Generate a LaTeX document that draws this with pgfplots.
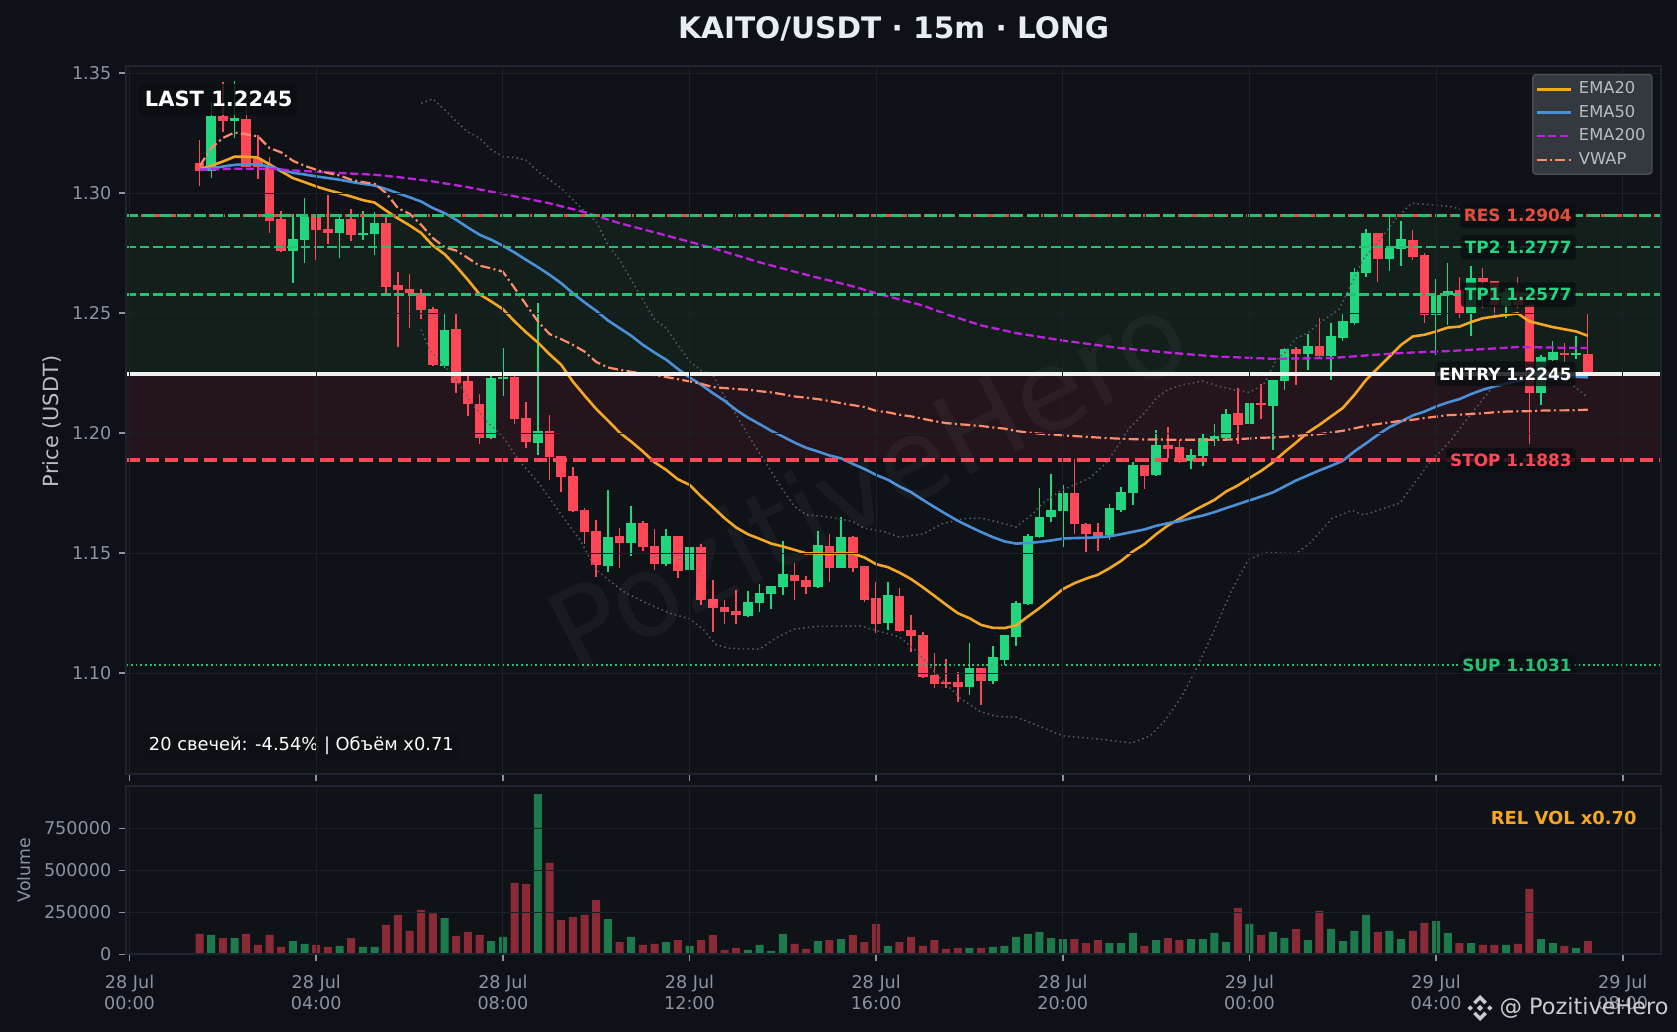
\documentclass[border=0pt]{standalone}
\usepackage{fontspec}
\setmainfont{DejaVu Sans}
\setsansfont{DejaVu Sans}
\usepackage{pgfplots}
\usepackage{pgfplotstable}
\pgfplotsset{compat=1.18}
\definecolor{figbg}{HTML}{0E1218}
\definecolor{axbg}{HTML}{0F1318}
\definecolor{spinec}{HTML}{1D242D}
\definecolor{gridc}{HTML}{1B2128}
\definecolor{tickc}{HTML}{8B949E}
\definecolor{titlec}{HTML}{E6EDF3}
\definecolor{up}{HTML}{22D67F}
\definecolor{down}{HTML}{FF4757}
\definecolor{upv}{HTML}{1C7A4C}
\definecolor{downv}{HTML}{8A2A37}
\definecolor{ema20}{HTML}{F5A623}
\definecolor{ema50}{HTML}{4A90D9}
\definecolor{ema200}{HTML}{C31FE0}
\definecolor{vwap}{HTML}{FF8C69}
\definecolor{bbc}{HTML}{565C64}
\definecolor{zoneg}{HTML}{121F1B}
\definecolor{zoner}{HTML}{24151C}
\definecolor{tpc}{HTML}{27C073}
\definecolor{resc}{HTML}{E74C3C}
\definecolor{boxc}{HTML}{0B0E12}
\definecolor{legf}{HTML}{34383F}
\definecolor{legd}{HTML}{484D54}
\definecolor{legt}{HTML}{B9BDC3}
\newcommand{\fs}[1]{\fontsize{#1}{#1}\selectfont}
\pgfplotstableread{
n o h l c v
0 1.3125 1.3222 1.3031 1.3093 121000
1 1.3093 1.3382 1.3065 1.3323 115000
2 1.3323 1.3463 1.3257 1.3299 97000
3 1.3299 1.3468 1.3232 1.3313 97000
4 1.3309 1.3364 1.3108 1.3111 121000
5 1.3142 1.3243 1.3060 1.3108 56000
6 1.3108 1.3150 1.2836 1.2886 115000
7 1.2892 1.2927 1.2757 1.2759 44000
8 1.2759 1.2914 1.2625 1.2809 79000
9 1.2803 1.2980 1.2711 1.2900 62000
10 1.2900 1.2910 1.2722 1.2845 56000
11 1.2850 1.2993 1.2789 1.2836 44000
12 1.2836 1.2900 1.2728 1.2892 50000
13 1.2892 1.2935 1.2802 1.2824 97000
14 1.2825 1.2927 1.2806 1.2834 44000
15 1.2830 1.2921 1.2743 1.2875 44000
16 1.2875 1.2903 1.2581 1.2611 175000
17 1.2617 1.2672 1.2361 1.2595 234000
18 1.2600 1.2664 1.2440 1.2583 139000
19 1.2583 1.2602 1.2477 1.2512 264000
20 1.2517 1.2525 1.2282 1.2284 244000
21 1.2282 1.2500 1.2270 1.2429 216000
22 1.2433 1.2497 1.2167 1.2208 109000
23 1.2217 1.2243 1.2070 1.2120 133000
24 1.2121 1.2163 1.1957 1.1978 115000
25 1.1978 1.2243 1.1976 1.2229 79000
26 1.2225 1.2355 1.2157 1.2234 103000
27 1.2234 1.2253 1.2037 1.2059 425000
28 1.2063 1.2131 1.1940 1.1963 419000
29 1.1961 1.2542 1.1911 1.2009 954000
30 1.2011 1.2075 1.1806 1.1900 544000
31 1.1903 1.1906 1.1753 1.1817 204000
32 1.1821 1.1859 1.1670 1.1674 222000
33 1.1681 1.1688 1.1539 1.1587 234000
34 1.1592 1.1639 1.1399 1.1449 323000
35 1.1445 1.1764 1.1420 1.1567 210000
36 1.1571 1.1604 1.1440 1.1541 73000
37 1.1541 1.1697 1.1489 1.1625 103000
38 1.1625 1.1635 1.1511 1.1525 56000
39 1.1529 1.1601 1.1432 1.1457 62000
40 1.1453 1.1601 1.1445 1.1571 73000
41 1.1571 1.1573 1.1395 1.1424 85000
42 1.1428 1.1527 1.1416 1.1525 50000
43 1.1525 1.1538 1.1286 1.1303 85000
44 1.1309 1.1389 1.1170 1.1270 115000
45 1.1275 1.1306 1.1203 1.1254 26000
46 1.1258 1.1347 1.1207 1.1241 38000
47 1.1240 1.1343 1.1236 1.1296 26000
48 1.1292 1.1371 1.1253 1.1333 56000
49 1.1328 1.1365 1.1266 1.1363 20000
50 1.1359 1.1552 1.1324 1.1413 121000
51 1.1409 1.1459 1.1303 1.1384 62000
52 1.1388 1.1406 1.1328 1.1361 32000
53 1.1359 1.1593 1.1357 1.1534 79000
54 1.1529 1.1579 1.1378 1.1440 85000
55 1.1440 1.1650 1.1438 1.1567 91000
56 1.1567 1.1573 1.1420 1.1440 115000
57 1.1446 1.1448 1.1295 1.1307 73000
58 1.1313 1.1380 1.1167 1.1207 181000
59 1.1211 1.1380 1.1182 1.1325 50000
60 1.1321 1.1355 1.1172 1.1175 73000
61 1.1179 1.1243 1.1090 1.1153 103000
62 1.1158 1.1171 1.0982 1.0986 50000
63 1.0992 1.1083 1.0940 1.0957 85000
64 1.0963 1.1060 1.0940 1.0956 32000
65 1.0963 1.1003 1.0882 1.0942 38000
66 1.0942 1.1125 1.0910 1.1021 38000
67 1.1021 1.1023 1.0866 1.0966 38000
68 1.0966 1.1114 1.0957 1.1067 44000
69 1.1056 1.1160 1.1035 1.1158 50000
70 1.1149 1.1300 1.1115 1.1292 103000
71 1.1288 1.1579 1.1286 1.1571 121000
72 1.1566 1.1771 1.1564 1.1650 133000
73 1.1649 1.1831 1.1632 1.1680 97000
74 1.1674 1.1783 1.1524 1.1750 91000
75 1.1750 1.1892 1.1578 1.1620 91000
76 1.1621 1.1625 1.1507 1.1582 67000
77 1.1588 1.1625 1.1511 1.1571 85000
78 1.1574 1.1705 1.1553 1.1688 67000
79 1.1682 1.1775 1.1670 1.1754 67000
80 1.1749 1.1880 1.1699 1.1867 127000
81 1.1867 1.1869 1.1766 1.1820 50000
82 1.1824 1.2013 1.1822 1.1950 85000
83 1.1950 1.2025 1.1896 1.1936 97000
84 1.1942 1.1972 1.1874 1.1882 85000
85 1.1884 1.1934 1.1849 1.1909 91000
86 1.1907 1.1996 1.1862 1.1979 91000
87 1.1975 1.2038 1.1945 1.1988 127000
88 1.1982 1.2100 1.1966 1.2079 73000
89 1.2084 1.2188 1.1957 1.2036 276000
90 1.2040 1.2204 1.2024 1.2125 181000
91 1.2125 1.2204 1.2060 1.2117 115000
92 1.2115 1.2223 1.1932 1.2221 133000
93 1.2216 1.2355 1.2178 1.2350 97000
94 1.2349 1.2359 1.2202 1.2332 151000
95 1.2332 1.2413 1.2262 1.2363 85000
96 1.2364 1.2480 1.2310 1.2323 258000
97 1.2323 1.2459 1.2220 1.2406 151000
98 1.2395 1.2496 1.2383 1.2467 79000
99 1.2461 1.2688 1.2449 1.2671 139000
100 1.2666 1.2850 1.2649 1.2834 234000
101 1.2834 1.2836 1.2628 1.2725 133000
102 1.2725 1.2900 1.2674 1.2771 139000
103 1.2767 1.2884 1.2695 1.2809 91000
104 1.2805 1.2846 1.2720 1.2736 139000
105 1.2742 1.2750 1.2461 1.2492 187000
106 1.2492 1.2642 1.2325 1.2575 198000
107 1.2575 1.2709 1.2452 1.2592 127000
108 1.2596 1.2650 1.2482 1.2496 67000
109 1.2500 1.2698 1.2403 1.2646 67000
110 1.2646 1.2688 1.2521 1.2628 56000
111 1.2634 1.2636 1.2492 1.2535 56000
112 1.2532 1.2605 1.2478 1.2588 56000
113 1.2588 1.2650 1.2520 1.2535 62000
114 1.2534 1.2536 1.1953 1.2167 389000
115 1.2167 1.2325 1.2118 1.2317 91000
116 1.2307 1.2384 1.2299 1.2338 67000
117 1.2334 1.2375 1.2295 1.2325 50000
118 1.2325 1.2406 1.2309 1.2334 38000
119 1.2330 1.2496 1.2243 1.2245 79000
}\candles
\pgfplotstableread{
n e
0 1.3100
1 1.3114
2 1.3132
3 1.3152
4 1.3152
5 1.3148
6 1.3120
7 1.3091
8 1.3063
9 1.3046
10 1.3028
11 1.3013
12 1.3000
13 1.2986
14 1.2971
15 1.2961
16 1.2927
17 1.2895
18 1.2866
19 1.2834
20 1.2782
21 1.2746
22 1.2695
23 1.2639
24 1.2579
25 1.2549
26 1.2517
27 1.2466
28 1.2420
29 1.2378
30 1.2329
31 1.2285
32 1.2215
33 1.2157
34 1.2101
35 1.2053
36 1.2003
37 1.1965
38 1.1924
39 1.1879
40 1.1847
41 1.1808
42 1.1785
43 1.1736
44 1.1692
45 1.1646
46 1.1607
47 1.1579
48 1.1560
49 1.1540
50 1.1528
51 1.1514
52 1.1499
53 1.1500
54 1.1496
55 1.1501
56 1.1499
57 1.1482
58 1.1454
59 1.1442
60 1.1419
61 1.1392
62 1.1358
63 1.1322
64 1.1285
65 1.1250
66 1.1229
67 1.1201
68 1.1189
69 1.1188
70 1.1199
71 1.1236
72 1.1271
73 1.1310
74 1.1350
75 1.1375
76 1.1394
77 1.1410
78 1.1437
79 1.1468
80 1.1507
81 1.1538
82 1.1579
83 1.1615
84 1.1643
85 1.1671
86 1.1697
87 1.1722
88 1.1757
89 1.1782
90 1.1813
91 1.1843
92 1.1878
93 1.1921
94 1.1961
95 1.2003
96 1.2035
97 1.2070
98 1.2105
99 1.2160
100 1.2222
101 1.2271
102 1.2319
103 1.2368
104 1.2403
105 1.2410
106 1.2424
107 1.2440
108 1.2444
109 1.2463
110 1.2479
111 1.2486
112 1.2493
113 1.2499
114 1.2466
115 1.2454
116 1.2442
117 1.2433
118 1.2424
119 1.2406
}\emaA
\pgfplotstableread{
n e
0 1.3097
1 1.3103
2 1.3111
3 1.3118
4 1.3120
5 1.3120
6 1.3111
7 1.3097
8 1.3085
9 1.3078
10 1.3070
11 1.3063
12 1.3056
13 1.3047
14 1.3039
15 1.3032
16 1.3017
17 1.3000
18 1.2983
19 1.2965
20 1.2938
21 1.2917
22 1.2889
23 1.2857
24 1.2827
25 1.2806
26 1.2781
27 1.2753
28 1.2722
29 1.2692
30 1.2660
31 1.2625
32 1.2583
33 1.2545
34 1.2510
35 1.2470
36 1.2438
37 1.2406
38 1.2368
39 1.2336
40 1.2306
41 1.2268
42 1.2232
43 1.2202
44 1.2167
45 1.2135
46 1.2097
47 1.2065
48 1.2038
49 1.2010
50 1.1986
51 1.1961
52 1.1939
53 1.1924
54 1.1907
55 1.1895
56 1.1872
57 1.1851
58 1.1826
59 1.1806
60 1.1778
61 1.1754
62 1.1722
63 1.1692
64 1.1663
65 1.1635
66 1.1611
67 1.1588
68 1.1567
69 1.1549
70 1.1540
71 1.1542
72 1.1547
73 1.1553
74 1.1561
75 1.1563
76 1.1564
77 1.1566
78 1.1570
79 1.1579
80 1.1589
81 1.1599
82 1.1614
83 1.1625
84 1.1633
85 1.1646
86 1.1657
87 1.1671
88 1.1688
89 1.1704
90 1.1720
91 1.1736
92 1.1753
93 1.1778
94 1.1803
95 1.1824
96 1.1845
97 1.1864
98 1.1885
99 1.1924
100 1.1958
101 1.1993
102 1.2025
103 1.2049
104 1.2074
105 1.2090
106 1.2111
107 1.2128
108 1.2142
109 1.2163
110 1.2181
111 1.2195
112 1.2206
113 1.2218
114 1.2225
115 1.2229
116 1.2232
117 1.2235
118 1.2235
119 1.2233
}\emaB
\pgfplotstableread{
n e
0 1.3098
3 1.3102
6 1.3102
8 1.3095
12 1.3084
15 1.3077
17 1.3067
20 1.3049
23 1.3025
26 1.2997
30 1.2958
33 1.2921
36 1.2875
40 1.2824
44 1.2771
48 1.2712
52 1.2660
56 1.2612
58 1.2583
62 1.2532
64 1.2496
67 1.2449
70 1.2417
74 1.2386
79 1.2354
83 1.2336
87 1.2320
92 1.2310
97 1.2313
100 1.2324
103 1.2334
107 1.2342
111 1.2353
113 1.2359
117 1.2356
119 1.2355
}\emaC
\pgfplotstableread{
n e
0 1.3112
1 1.3188
2 1.3230
3 1.3253
4 1.3245
5 1.3237
6 1.3188
7 1.3170
8 1.3135
9 1.3114
10 1.3098
11 1.3084
12 1.3074
13 1.3056
14 1.3046
15 1.3039
16 1.3000
17 1.2938
18 1.2914
19 1.2868
20 1.2813
21 1.2775
22 1.2761
23 1.2730
24 1.2698
25 1.2687
26 1.2673
27 1.2605
28 1.2535
29 1.2466
30 1.2413
31 1.2392
32 1.2368
33 1.2340
34 1.2297
35 1.2274
36 1.2264
37 1.2256
38 1.2249
39 1.2242
40 1.2234
41 1.2225
42 1.2216
43 1.2206
44 1.2192
45 1.2188
46 1.2184
47 1.2181
48 1.2175
49 1.2170
50 1.2162
51 1.2153
52 1.2148
53 1.2142
54 1.2134
55 1.2125
56 1.2117
57 1.2109
58 1.2093
59 1.2087
60 1.2077
61 1.2070
62 1.2060
63 1.2050
64 1.2042
65 1.2038
66 1.2034
67 1.2030
68 1.2024
69 1.2019
70 1.2009
71 1.2003
72 1.1998
73 1.1995
74 1.1991
75 1.1988
76 1.1985
77 1.1982
78 1.1979
79 1.1977
80 1.1975
81 1.1974
82 1.1974
83 1.1973
84 1.1973
85 1.1973
86 1.1973
87 1.1973
88 1.1973
89 1.1975
90 1.1978
91 1.1981
92 1.1982
93 1.1985
94 1.1989
95 1.1992
96 1.1996
97 1.2003
98 1.2010
99 1.2020
100 1.2031
101 1.2038
102 1.2045
103 1.2052
104 1.2056
105 1.2063
106 1.2069
107 1.2075
108 1.2077
109 1.2080
110 1.2083
111 1.2087
112 1.2090
113 1.2091
114 1.2092
115 1.2094
116 1.2095
117 1.2095
118 1.2096
119 1.2098
}\vwapT
\pgfplotstableread{
n e
19 1.3375
20 1.3393
21 1.3348
22 1.3299
23 1.3255
24 1.3230
25 1.3181
26 1.3153
27 1.3149
28 1.3137
29 1.3091
30 1.3056
31 1.3021
32 1.2973
33 1.2924
34 1.2882
35 1.2785
36 1.2722
37 1.2639
38 1.2556
39 1.2473
40 1.2438
41 1.2368
42 1.2299
43 1.2261
44 1.2243
45 1.2153
46 1.2077
47 1.1994
48 1.1917
49 1.1841
50 1.1764
51 1.1695
52 1.1660
54 1.1650
56 1.1632
57 1.1604
58.6 1.1591
60 1.1567
62 1.1580
63.7 1.1623
65.5 1.1644
67 1.1646
68.6 1.1628
70 1.1609
71.5 1.1667
72.3 1.1709
73.7 1.1757
75 1.1785
76.3 1.1813
77.7 1.1875
78.6 1.1938
79.7 1.2021
81 1.2084
82 1.2146
83 1.2181
84.3 1.2202
86 1.2217
87.2 1.2198
88.6 1.2181
90 1.2170
91.2 1.2202
92.3 1.2306
93 1.2334
94 1.2396
95 1.2417
96 1.2459
97.7 1.2517
99.2 1.2667
99.7 1.2722
101.2 1.2806
102.6 1.2896
103.9 1.2958
107.2 1.2945
108.3 1.2931
112 1.2889
}\bbU
\pgfplotstableread{
n e
19 1.2431
19.7 1.2348
21 1.2278
22 1.2223
23.1 1.2139
24.6 1.2049
26 1.1986
27.4 1.1885
29.2 1.1785
30.9 1.1667
32.6 1.1556
34 1.1431
36.3 1.1341
38.3 1.1292
40.3 1.1250
42 1.1227
43.2 1.1181
44.3 1.1118
45.4 1.1104
48 1.1100
49.4 1.1146
50.9 1.1183
52.9 1.1195
56.6 1.1197
58.3 1.1174
60 1.1151
61.5 1.1090
63.5 1.0979
65.2 1.0896
66.9 1.0841
68.3 1.0820
70 1.0817
71.7 1.0785
74 1.0739
77.2 1.0725
79.9 1.0709
81.5 1.0739
82.7 1.0799
84.2 1.0903
85.4 1.1014
87 1.1181
88.5 1.1347
89.9 1.1472
91.3 1.1503
94 1.1498
95.2 1.1542
97.1 1.1646
98.8 1.1678
99.8 1.1659
102.9 1.1709
105.4 1.1875
107.3 1.1972
108.6 1.2056
110.9 1.2195
112.6 1.2222
115 1.2229
117.5 1.2209
118.9 1.2153
}\bbL
\tikzset{
 lvl/.style={anchor=east, fill=boxc, fill opacity=0.82, text opacity=1, rounded corners=1.5pt, inner xsep=2pt, inner ysep=0pt, minimum height=12.2pt, font=\bfseries\fs{8.45}},
}
\pgfplotsset{
 common/.style={
  scale only axis,
  anchor=south west,
  width=767.35pt,
  xmin=-6.28, xmax=125.28,
  xtick={-6,10,26,42,58,74,90,106,122},
  xtick pos=bottom, ytick pos=left,
  grid=major,
  major grid style={gridc,line width=0.55pt},
  axis line style={spinec,line width=0.9pt},
  tick align=outside,
  major tick length=3.5pt,
  tick style={tickc,line width=0.75pt},
  tick label style={tickc,font=\fs{8.8}},
  yticklabel style={xshift=-0.5pt},
  axis background/.style={fill=axbg},
  axis on top,
 },
 upf/.style={x filter/.expression={\thisrow{c}>=\thisrow{o} ? x : nan}},
 downf/.style={x filter/.expression={\thisrow{c}<\thisrow{o} ? x : nan}},
 wick/.style={forget plot, mark=none, draw=none, error bars/.cd, y dir=both, y explicit, error mark=none, error bar style={draw=#1,line width=0.72pt}},
 body/.style={forget plot, mark=none, draw=none, error bars/.cd, y dir=both, y explicit, error mark=none, error bar style={draw=#1,line width=4.75pt}},
}
\begin{document}
\begin{tikzpicture}
\useasboundingbox (0,0) rectangle (838.5pt,516pt);
\fill[figbg] (0,0) rectangle (838.5pt,516pt);
% main price panel
\begin{axis}[common,
  at={(63.15pt,129pt)},
  height=354pt,
  ymin=1.058, ymax=1.353,
  ytick={1.10,1.15,1.20,1.25,1.30,1.35},
  yticklabels={1.10,1.15,1.20,1.25,1.30,1.35},
  xticklabels={},
  title={KAITO/USDT · 15m · LONG},
  title style={at={(axis description cs:0.5,1.0523)},anchor=center,yshift=-6pt,text=titlec,font=\bfseries\fs{14.8}},
  ylabel={Price (USDT)},
  y label style={at={(axis description cs:-0.0484,0.498)},anchor=center,text=titlec!80!black,font=\fs{10.45}},
  legend cell align=left,
  legend style={at={(axis description cs:1,1)},anchor=north east,xshift=-4.15pt,yshift=-4pt,
    fill=legf,draw=legd,line width=0.7pt,rounded corners=1.5pt,text=legt,font=\fs{8.15},
    inner xsep=1.2pt,inner ysep=1.5pt,row sep=0.2pt,
    /tikz/every odd column/.append style={column sep=1.5pt}},
]
\addplot[forget plot,draw=none,fill=zoneg] coordinates {(-6.28,1.2247)(125.28,1.2247)(125.28,1.2907)(-6.28,1.2907)} --cycle;
\addplot[forget plot,draw=none,fill=zoner] coordinates {(-6.28,1.1888)(125.28,1.1888)(125.28,1.2247)(-6.28,1.2247)} --cycle;
% candles: wicks (low to high) and bodies (open to close)
\addplot[wick=down] table[x=n,downf,y expr=(\thisrow{h}+\thisrow{l})/2,y error expr=(\thisrow{h}-\thisrow{l})/2] {\candles};
\addplot[wick=up] table[x=n,upf,y expr=(\thisrow{h}+\thisrow{l})/2,y error expr=(\thisrow{h}-\thisrow{l})/2] {\candles};
\addplot[body=down] table[x=n,downf,y expr=(\thisrow{o}+\thisrow{c})/2,y error expr=abs(\thisrow{o}-\thisrow{c})/2] {\candles};
\addplot[body=up] table[x=n,upf,y expr=(\thisrow{o}+\thisrow{c})/2,y error expr=abs(\thisrow{o}-\thisrow{c})/2] {\candles};
% bands
\addplot[forget plot,bbc,line width=0.75pt,dash pattern=on 0.75pt off 1.6pt] table[x=n,y=e] {\bbU};
\addplot[forget plot,bbc,line width=0.75pt,dash pattern=on 0.75pt off 1.6pt] table[x=n,y=e] {\bbL};
% averages
\addplot[ema20,line width=1.3pt] table[x=n,y=e] {\emaA}; \addlegendentry{EMA20}
\addplot[ema50,line width=1.3pt] table[x=n,y=e] {\emaB}; \addlegendentry{EMA50}
\addplot[ema200,line width=1.15pt,dash pattern=on 4pt off 1.8pt] table[x=n,y=e] {\emaC}; \addlegendentry{EMA200}
\addplot[vwap,line width=1.1pt,dash pattern=on 5pt off 1.7pt on 1pt off 1.7pt] table[x=n,y=e] {\vwapT}; \addlegendentry{VWAP}
% levels
\addplot[forget plot,resc,line width=1.25pt,dash pattern=on 3.2pt off 1.6pt on 0.9pt off 1.6pt] coordinates {(-6.28,1.2907)(125.28,1.2907)};
\addplot[forget plot,tpc,line width=1.25pt,dash pattern=on 6pt off 2.5pt] coordinates {(-6.28,1.2907)(125.28,1.2907)};
\addplot[forget plot,tpc,line width=1.25pt,dash pattern=on 4.8pt off 1.9pt] coordinates {(-6.28,1.2775)(125.28,1.2775)};
\addplot[forget plot,tpc,line width=1.25pt,dash pattern=on 4.8pt off 1.9pt] coordinates {(-6.28,1.2577)(125.28,1.2577)};
\addplot[forget plot,white!94!black,line width=1.8pt] coordinates {(-6.28,1.2247)(125.28,1.2247)};
\addplot[forget plot,down,line width=1.7pt,dash pattern=on 6.7pt off 3pt] coordinates {(-6.28,1.1888)(125.28,1.1888)};
\addplot[forget plot,tpc,line width=0.9pt,dash pattern=on 0.9pt off 1.45pt] coordinates {(-6.28,1.1033)(125.28,1.1033)};
% watermark
\node[rotate=27,text=white,opacity=0.04,font=\fs{56}] at (axis description cs:0.4825,0.4138) {PozitiveHero};
% level labels
\node[lvl,text=tpc] at (axis cs:118,1.2907) {TP3 1.2904};
\node[lvl,text=resc] at (axis cs:118,1.2907) {RES 1.2904};
\node[lvl,text=up] at (axis cs:118,1.2775) {TP2 1.2777};
\node[lvl,text=up] at (axis cs:118,1.2577) {TP1 1.2577};
\node[lvl,text=white] at (axis cs:118,1.2247) {ENTRY 1.2245};
\node[lvl,text=down] at (axis cs:118,1.1888) {STOP 1.1883};
\node[lvl,text=tpc] at (axis cs:118,1.1033) {SUP 1.1031};
\node[anchor=west,fill=boxc,fill opacity=0.8,text opacity=1,text=white,rounded corners=2pt,inner xsep=3pt,inner ysep=0pt,minimum height=15.5pt,font=\bfseries\fs{10.5}] at (axis cs:-5.23,1.3391) {LAST 1.2245};
\node[anchor=west,fill=boxc,fill opacity=0.4,text opacity=1,text=white,rounded corners=2pt,inner xsep=3pt,inner ysep=0pt,minimum height=15pt,font=\fs{8.92}] at (axis cs:-4.89,1.0696) {20 свечей: -4.54\% | Объём x0.71};
\end{axis}
% volume panel
\begin{axis}[common,
  at={(63.15pt,38.85pt)},
  height=84.3pt,
  ymin=0, ymax=1004000,
  ytick={0,250000,500000,750000},
  yticklabels={0,250000,500000,750000},
  scaled y ticks=false,
  xticklabels={{28 Jul\\00:00},{28 Jul\\04:00},{28 Jul\\08:00},{28 Jul\\12:00},{28 Jul\\16:00},{28 Jul\\20:00},{29 Jul\\00:00},{29 Jul\\04:00},{29 Jul\\08:00}},
  xticklabel style={align=center,yshift=-3.2pt,font=\fontsize{8.8}{10.7}\selectfont},
  ylabel={Volume},
  y label style={at={(axis description cs:-0.0667,0.5)},anchor=center,text=tickc,font=\fs{8.65}},
]
\addplot[forget plot,ybar,bar width=4pt,bar shift=0pt,draw=none,fill=downv] table[x=n,y=v,downf] {\candles};
\addplot[forget plot,ybar,bar width=4pt,bar shift=0pt,draw=none,fill=upv] table[x=n,y=v,upf] {\candles};
\node[anchor=east,text=ema20,font=\bfseries\fs{8.95}] at (axis cs:123.8,811000) {REL VOL x0.70};
\end{axis}
% footer signature
\begin{scope}[shift={(740pt,12pt)},fill=white!80!black]
\fill (0,6.5pt) -- (3.4pt,3.1pt) -- (2.2pt,1.9pt) -- (0,4.1pt) -- (-2.2pt,1.9pt) -- (-3.4pt,3.1pt) -- cycle;
\fill (0,-6.5pt) -- (3.4pt,-3.1pt) -- (2.2pt,-1.9pt) -- (0,-4.1pt) -- (-2.2pt,-1.9pt) -- (-3.4pt,-3.1pt) -- cycle;
\fill (0,1.6pt) -- (1.6pt,0) -- (0,-1.6pt) -- (-1.6pt,0) -- cycle;
\fill (-4.9pt,1.3pt) -- (-3.6pt,0) -- (-4.9pt,-1.3pt) -- (-6.2pt,0) -- cycle;
\fill (4.9pt,1.3pt) -- (6.2pt,0) -- (4.9pt,-1.3pt) -- (3.6pt,0) -- cycle;
\end{scope}
\node[anchor=east,inner sep=0pt,text=white!80!black,font=\fs{11.2}] at (834.5pt,12pt) {@ PozitiveHero};
\end{tikzpicture}
\end{document}
